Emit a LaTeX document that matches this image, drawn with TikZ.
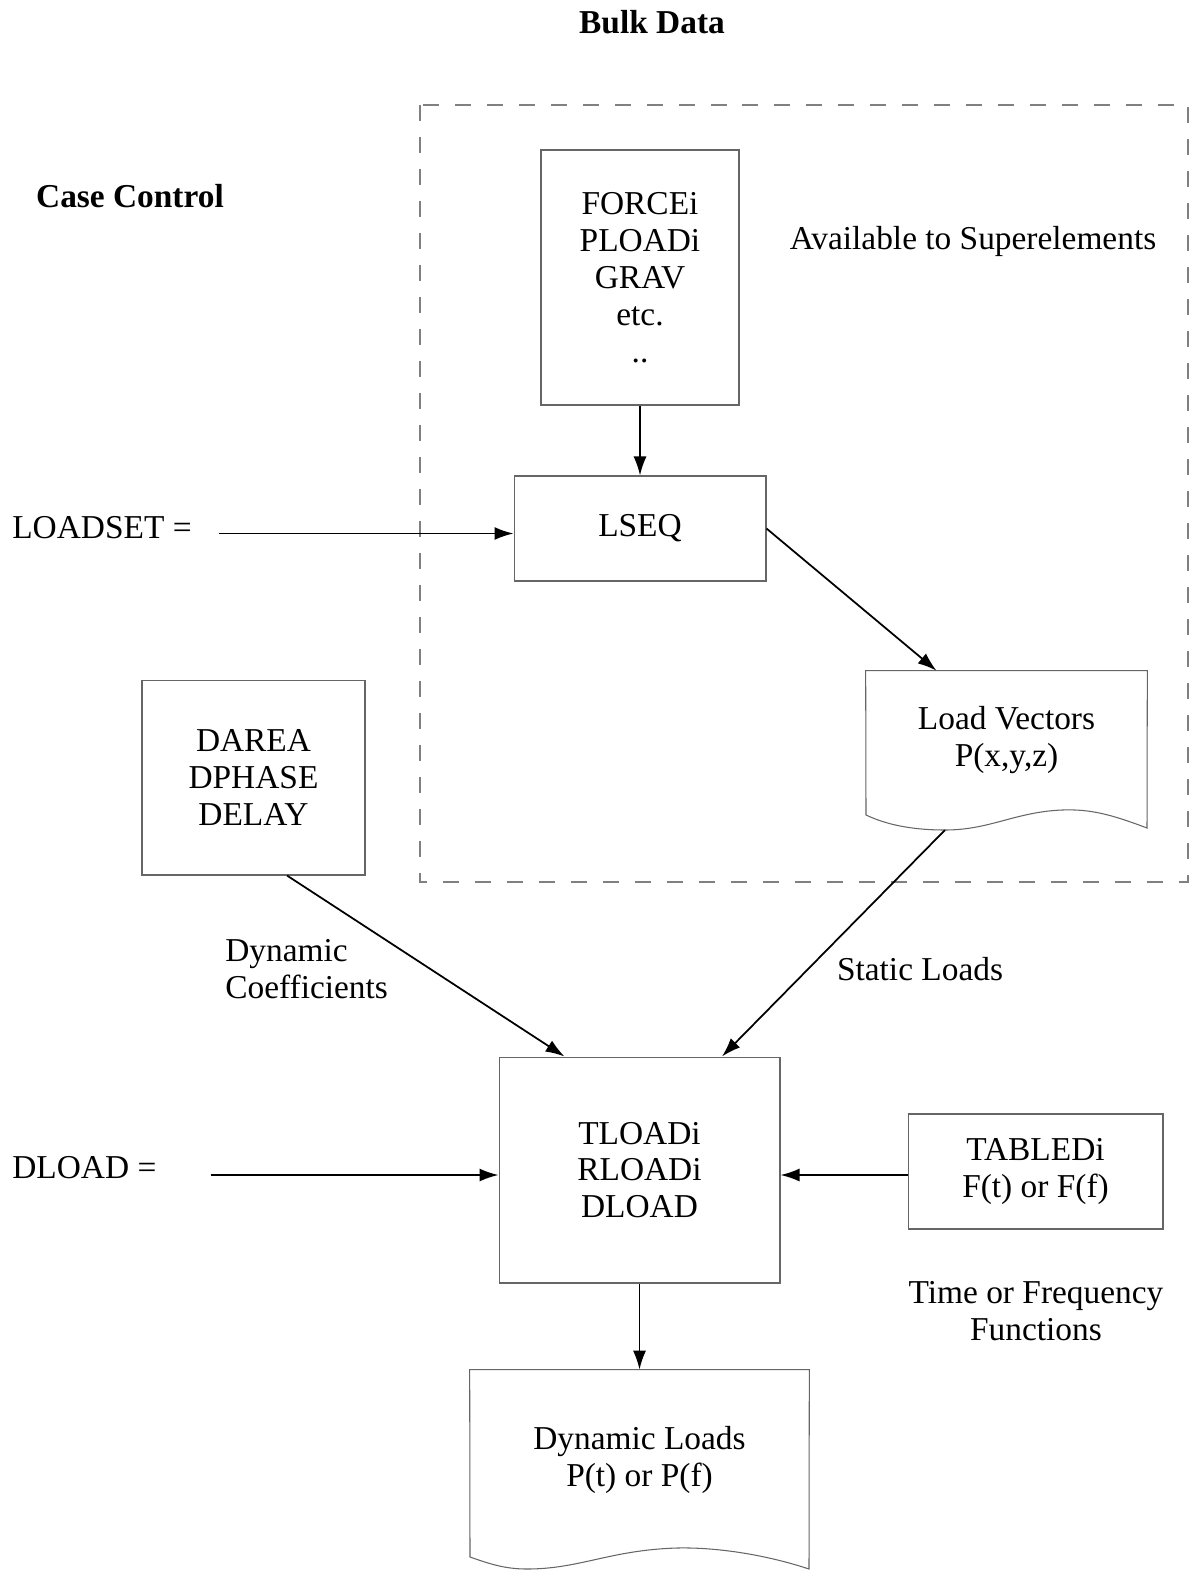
\documentclass[tikz,border=0pt]{standalone}
\usepackage{fontspec}
\setmainfont{Liberation Serif}
\usetikzlibrary{arrows.meta,positioning}

\begin{document}
\begin{tikzpicture}[x=0.02cm,y=-0.02cm,>=Latex,font=\fontsize{19}{21}\selectfont,
  box/.style={draw=black!60,line width=0.6pt,align=center,inner sep=0pt},
  docbox/.style={align=center,inner sep=0pt},
  lbl/.style={align=center,inner sep=0pt},
  arr/.style={-{Latex[length=0.38cm,width=0.26cm]},line width=1pt}]
\useasboundingbox (0,0) rectangle (1192,1572);
% titles
\node[lbl,font=\fontsize{19}{21}\selectfont\bfseries] (bulk) at (652,22) {Bulk Data};
\node[lbl,font=\fontsize{19}{21}\selectfont\bfseries] (casectl) at (130,196) {Case Control};
% superelement region
\draw[black!50,line width=0.6pt,dash pattern=on 0.32cm off 0.32cm] (420,105) rectangle (1188,882);
\node[lbl] (avail) at (973,241) {Available to Superelements};
% boxes
\node[box,minimum width=3.96cm,minimum height=5.1cm] (force) at (640,277.5) {FORCEi\\PLOADi\\GRAV\\etc.\\..};
\node[box,minimum width=5.04cm,minimum height=2.1cm] (lseq) at (640,528.5) {LSEQ};
\node[box,minimum width=4.46cm,minimum height=3.9cm] (darea) at (253.5,777.5) {DAREA\\DPHASE\\DELAY};
\node[box,minimum width=5.62cm,minimum height=4.52cm] (tload) at (639.5,1170) {TLOADi\\RLOADi\\DLOAD};
\node[box,minimum width=5.1cm,minimum height=2.3cm] (tabled) at (1035.5,1171.5) {TABLEDi\\F(t) or F(f)};
% documents
\node[docbox,minimum width=5.62cm,minimum height=2.76cm] (loadvec) at (1006.5,740) {Load Vectors\\P(x,y,z)};
\draw[black!60,line width=0.6pt] (loadvec.north west) -- (loadvec.north east) -- (1147,828)
  .. controls (1110,814) and (1090,809) .. (1062,810)
  .. controls (1015,812) and (990,830) .. (945,830)
  .. controls (910,830) and (885,824) .. (866,815) -- cycle;
\coordinate (lv_out) at (945,830);
\node[docbox,minimum width=6.78cm,minimum height=3.6cm] (dynload) at (639.5,1460) {Dynamic Loads\\P(t) or P(f)};
\draw[black!60,line width=0.6pt] (dynload.north west) -- (dynload.north east) -- (809,1569)
  .. controls (770,1556) and (720,1547) .. (677,1548)
  .. controls (610,1550) and (580,1569) .. (527,1569)
  .. controls (505,1569) and (490,1564) .. (470,1557) -- cycle;
% case control entries
\node[lbl,anchor=west] (loadset) at (12,528) {LOADSET =};
\node[lbl,anchor=west] (dload) at (12,1168) {DLOAD =};
% labels
\node[lbl,align=left,anchor=west] (dyncoef) at (225,969) {Dynamic\\Coefficients};
\node[lbl] (statload) at (920,969) {Static Loads};
\node[lbl] (timefn) at (1036,1311) {Time or Frequency\\Functions};
% connectors
\draw[arr] (force.south) -- (lseq.north);
\draw[arr] ([xshift=0.54cm,yshift=-0.1cm]loadset.east |- lseq.west) -- ([yshift=-0.1cm]lseq.west);
\draw[arr] (lseq.east) -- ([xshift=-1.4cm]loadvec.north);
\draw[arr] ([xshift=0.67cm]darea.south) -- ([xshift=-1.5cm]tload.north);
\draw[arr] (lv_out) -- ([xshift=1.65cm]tload.north);
\draw[arr] ([xshift=1.08cm,yshift=-0.1cm]dload.east |- tload.west) -- ([yshift=-0.1cm]tload.west);
\draw[arr] ([yshift=-0.1cm]tabled.west |- tload.east) -- ([yshift=-0.1cm]tload.east);
\draw[arr] (tload.south) -- (dynload.north);
\end{tikzpicture}
\end{document}
